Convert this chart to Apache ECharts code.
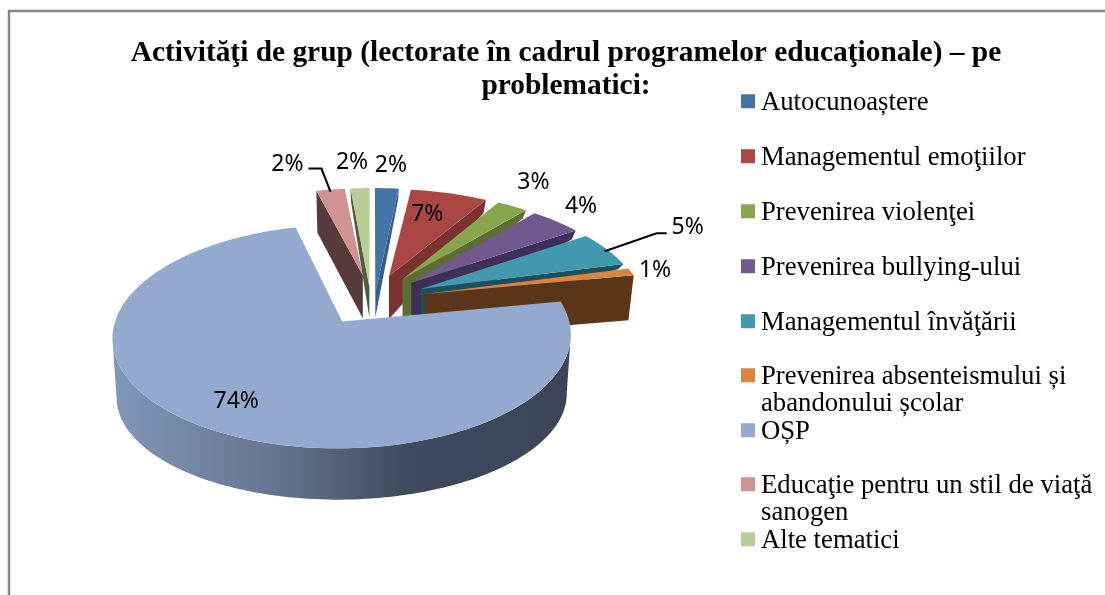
<!DOCTYPE html>
<html>
<head>
<meta charset="utf-8">
<title>Activităţi de grup</title>
<script src="https://cdn.jsdelivr.net/npm/echarts@6/dist/echarts.min.js"></script>
<style>
  html, body { margin: 0; padding: 0; background: #fff; }
  #chart { width: 1105px; height: 595px; }
</style>
</head>
<body>
<div id="chart"></div>
<script>
var titleText = 'Activităţi de grup (lectorate în cadrul programelor educaţionale) – pe\nproblematici:';

var categories = [
    'Autocunoaștere',
    'Managementul emoţiilor',
    'Prevenirea violenţei',
    'Prevenirea bullying-ului',
    'Managementul învăţării',
    'Prevenirea absenteismului și\nabandonului școlar',
    'OȘP',
    'Educaţie pentru un stil de viaţă\nsanogen',
    'Alte tematici'
];
var shares = [2, 6.5, 2.6, 4.4, 5.4, 1.1, 74, 2.4, 1.6];

var faceColors = ['#4572A7', '#AA4643', '#89A54E', '#71588F', '#4198AF', '#DB843D', '#93A9CF', '#D19392', '#B9CD96'];
var wallColors = ['#365D8C', '#7B3231', '#5C6E33', '#3F2E55', '#1D4F5C', '#5B3517', '#3C4558', '#573B3B', '#4F5C3D'];

// wedges further back are painted first, the big one last
var drawOrder = [7, 8, 0, 1, 2, 3, 4, 5, 6];

// how the flat pie is projected on the page
var centerX = 372, centerY = 299.5;
var radiusX = 221, radiusY = 104;
var perspective = 0.13;
var explode = 0.245;
var apexDepth = 43;
var wallInset = 0.02;
var outerDepth = [10, 13, 8, 9, 5, 45, 0, 42, 13];
var apexDrop = [18, 0, 0, 0, 0, 0, 0, 0, 12];

// label offset from the middle of each wedge's rim
var labelOffsets = [[4, -23], [-22, 21], [21, -24], [25, -15], [81, -22], [24, -1], [35, -25], [-43, -25], [-8, -26]];
var leaders = {
    4: [[-2, 2], [50, -16], [60, -16]],
    7: [[0, 2], [-9, -21], [-22, -21]]
};

var total = shares.reduce(function (a, b) { return a + b; }, 0);
var startShares = [];
shares.reduce(function (sum, v, i) { startShares[i] = sum; return sum + v; }, 0);

function toAngle(share) {
    return share / total * Math.PI * 2;
}

// angle is clockwise from 12 o'clock, r is 1 on the rim, 0 at the apex
function project(i, angle, r) {
    var mid = toAngle(startShares[i] + shares[i] / 2);
    var u = r * Math.sin(angle) + explode * Math.sin(mid);
    var v = -r * Math.cos(angle) - explode * Math.cos(mid);
    var s = 1 / (1 - perspective * v);
    return [centerX + radiusX * u * s, centerY + radiusY * v * s];
}

function rimPoints(i, from, to) {
    var steps = Math.max(2, Math.ceil(Math.abs(to - from) * 40));
    var pts = [];
    for (var k = 0; k <= steps; k++) {
        pts.push(project(i, from + (to - from) * k / steps, 1));
    }
    return pts;
}

function wedgeApex(i) {
    var apex = project(i, 0, 0);
    return [apex[0], apex[1] + apexDrop[i]];
}

function wedgeWall(i, from, to) {
    var base = project(i, 0, 0);
    var apex = wedgeApex(i);
    if (shares[i] > 50) {
        // big slice: the wall runs along the front of the rim, between its
        // widest points, so the sides of the wall are straight tangents
        var rim = rimPoints(i, from, to);
        var right = 0, left = 0;
        rim.forEach(function (p, k) {
            if (p[0] > rim[right][0]) right = k;
            if (p[0] < rim[left][0]) left = k;
        });
        var top = rim.slice(right, left + 1);
        var bottom = top.map(function (p) {
            return [base[0] + (p[0] - base[0]) * 0.982, 397 + (p[1] - 338) * 0.93];
        });
        return {
            type: 'polygon',
            shape: { points: top.concat(bottom.reverse()) },
            style: {
                fill: {
                    type: 'linear', x: 0, y: 0, x2: 1, y2: 0,
                    colorStops: [
                        { offset: 0, color: '#8197BA' },
                        { offset: 0.35, color: '#66758F' },
                        { offset: 0.65, color: '#3F4A5E' },
                        { offset: 1, color: wallColors[i] }
                    ]
                }
            }
        };
    }
    // the wall shows on the side that faces the viewer
    var edge = project(i, Math.sin(from + to) < 0 ? from : to, 1);
    var edgeBottom = [edge[0] - (edge[0] - centerX) * wallInset, edge[1] + outerDepth[i]];
    return {
        type: 'polygon',
        shape: { points: [apex, edge, edgeBottom, [base[0], base[1] + apexDepth]] },
        style: { fill: wallColors[i] }
    };
}

function renderWedge(i) {
    var from = toAngle(startShares[i]);
    var to = from + toAngle(shares[i]);
    var rimMid = project(i, (from + to) / 2, 1);
    var children = [
        wedgeWall(i, from, to),
        {
            type: 'polygon',
            shape: { points: [wedgeApex(i)].concat(rimPoints(i, from, to)) },
            style: { fill: faceColors[i] }
        }
    ];
    if (leaders[i]) {
        children.push({
            type: 'polyline',
            shape: {
                points: leaders[i].map(function (o) { return [rimMid[0] + o[0], rimMid[1] + o[1]]; })
            },
            style: { stroke: '#000', lineWidth: 2, fill: null }
        });
    }
    children.push({
        type: 'text',
        style: {
            x: rimMid[0] + labelOffsets[i][0],
            y: rimMid[1] + labelOffsets[i][1],
            text: Math.round(shares[i]) + '%',
            fill: '#000',
            font: '23px "Noto Sans"',
            align: 'center',
            verticalAlign: 'middle'
        }
    });
    return { type: 'group', children: children };
}

var legendFont = 26.7, legendLine = 26.5;
var legendCenters = [101, 156, 211, 266, 321, 375, 430, 484, 539];
// swatch sits in the top of a taller icon box, so it lands a little above the text's middle
var swatchIcon = 'path://M0 0H14V14H0ZM0 18L14 18';

var chart = echarts.init(document.getElementById('chart'), null, { renderer: 'canvas' });

var option = {
    animation: false,
    backgroundColor: '#fff',
    title: {
        text: titleText,
        left: 566,
        textAlign: 'center',
        top: 37,
        padding: 0,
        textStyle: {
            fontFamily: 'Liberation Serif',
            fontWeight: 'bold',
            fontSize: 29.4,
            lineHeight: 33,
            color: '#000'
        }
    },
    // one legend per item so the rows stay evenly spaced when a name wraps
    legend: categories.map(function (name, i) {
        var wrapped = name.indexOf('\n') >= 0;
        return {
            data: [name],
            left: 741,
            top: legendCenters[i] + 2 - (wrapped ? 3 : 1) * legendLine / 2,
            padding: 0,
            itemWidth: 14,
            itemHeight: 18,
            icon: swatchIcon,
            selectedMode: false,
            // blank first line keeps the swatch beside the first row of text
            formatter: function (n) { return wrapped ? '\n' + n : n; },
            textStyle: {
                fontFamily: 'Liberation Serif',
                fontSize: legendFont,
                lineHeight: legendLine,
                padding: [0, 0, 0, 1],
                color: '#000'
            }
        };
    }),
    graphic: [{
        type: 'rect',
        shape: { x: 9, y: 11, width: 1300, height: 800 },
        style: { fill: 'none', stroke: '#868686', lineWidth: 2.5 },
        silent: true
    }],
    series: drawOrder.map(function (i) {
        return {
            type: 'custom',
            name: categories[i],
            coordinateSystem: 'none',
            silent: true,
            itemStyle: { color: faceColors[i] },
            data: [[shares[i]]],
            renderItem: function () { return renderWedge(i); }
        };
    })
};

chart.setOption(option);
</script>
</body>
</html>
